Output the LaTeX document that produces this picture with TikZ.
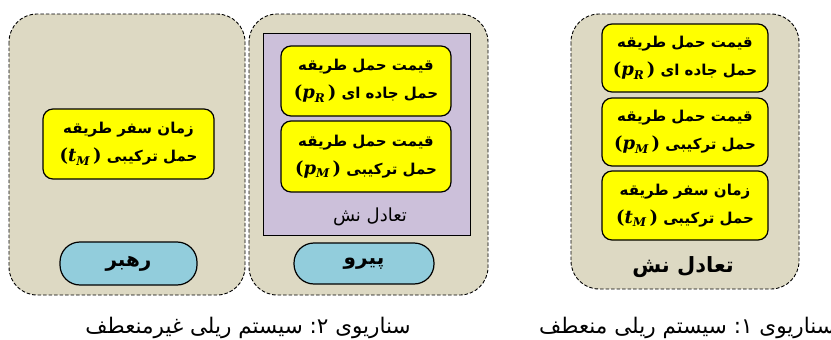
\documentclass[tikz,border=0pt]{standalone}
\usepackage{fontspec}
\newfontfamily\fa[Script=Arabic]{DejaVu Sans}
\newfontfamily\mf{DejaVu Serif}
\TeXXeTstate=1
\definecolor{beigefill}{HTML}{DDD9C3}
\definecolor{purplefill}{HTML}{CCC0DA}
\definecolor{yellowfill}{HTML}{FFFF00}
\definecolor{bluefill}{HTML}{92CDDC}
\tikzset{
  outerbox/.style={draw=black, fill=beigefill, line width=0.9pt, dash pattern=on 3.5pt off 2pt, rounded corners=28pt},
  purplebox/.style={draw=black, fill=purplefill, line width=1pt},
  ybox/.style={draw=black, fill=yellowfill, line width=1.2pt, rounded corners=10pt, inner sep=0pt, align=center, font={\fontsize{15}{28}\selectfont\fa\bfseries}},
  bluebox/.style={draw=black, fill=bluefill, line width=1.2pt, rounded corners=20pt, inner sep=0pt, font={\fontsize{20}{22}\selectfont\fa\bfseries}},
  captext/.style={inner sep=0pt, font={\fontsize{21.5}{24}\selectfont\fa}},
}
\newcommand{\rtl}[1]{\beginR #1\endR}
\newcommand{\pv}[2]{{\mf\bfseries\fontsize{18}{20}\selectfont(\textit{#1}\raisebox{-0.35ex}{\fontsize{12}{12}\selectfont\textit{#2}}\,)}}
\begin{document}
\begin{tikzpicture}[x=1pt,y=-1pt]
\clip (0,0) rectangle (831,340);
\fill[white] (0,0) rectangle (831,340);
% outer boxes
\draw[outerbox] (9,14) rectangle (245,295);
\draw[outerbox] (249,14) rectangle (488,295);
\draw[outerbox] (571,14) rectangle (799,289);
% purple frame
\node[purplebox, minimum width=207pt, minimum height=202pt, inner sep=0pt] (nash2) at (366.5,134) {};
% left (leader)
\node[ybox, minimum width=171pt, minimum height=70pt] (lt) at (128.5,144)
  {\rtl{زمان سفر طریقه}\\\pv{t}{M}\ \rtl{حمل ترکیبی}};
\node[bluebox, minimum width=137pt, minimum height=43pt] (leader) at (128.5,263.5) {\rtl{رهبر}};
% middle (follower)
\node[ybox, minimum width=170pt, minimum height=70pt] (mpr) at (366,81)
  {\rtl{قیمت حمل طریقه}\\\pv{p}{R}\ \rtl{حمل جاده ای}};
\node[ybox, minimum width=170pt, minimum height=71pt] (mpm) at (366,156.5)
  {\rtl{قیمت حمل طریقه}\\\pv{p}{M}\ \rtl{حمل ترکیبی}};
\node[inner sep=0pt, font={\fontsize{18}{20}\selectfont\fa}] (nashlbl2) at (370,217) {\rtl{تعادل نش}};
\node[bluebox, minimum width=140pt, minimum height=41pt] (follower) at (364,263.5) {\rtl{پیرو}};
% right (scenario 1)
\node[ybox, minimum width=166pt, minimum height=68pt] (rpr) at (685,58)
  {\rtl{قیمت حمل طریقه}\\\pv{p}{R}\ \rtl{حمل جاده ای}};
\node[ybox, minimum width=166pt, minimum height=68pt] (rpm) at (685,132)
  {\rtl{قیمت حمل طریقه}\\\pv{p}{M}\ \rtl{حمل ترکیبی}};
\node[ybox, minimum width=166pt, minimum height=69pt] (rtm) at (685,205.5)
  {\rtl{زمان سفر طریقه}\\\pv{t}{M}\ \rtl{حمل ترکیبی}};
\node[inner sep=0pt, font={\fontsize{21}{24}\selectfont\fa\bfseries}] (nashlbl1) at (683,267) {\rtl{تعادل نش}};
% captions
\node[captext] (cap2) at (248,328) {\rtl{سیستم ریلی غیرمنعطف}\ ۲:\ \rtl{سناریوی}};
\node[captext, anchor=west] (cap1) at (539,328) {\rtl{سیستم ریلی منعطف}\ ۱:\ \rtl{سناریوی}};
\end{tikzpicture}
\end{document}
